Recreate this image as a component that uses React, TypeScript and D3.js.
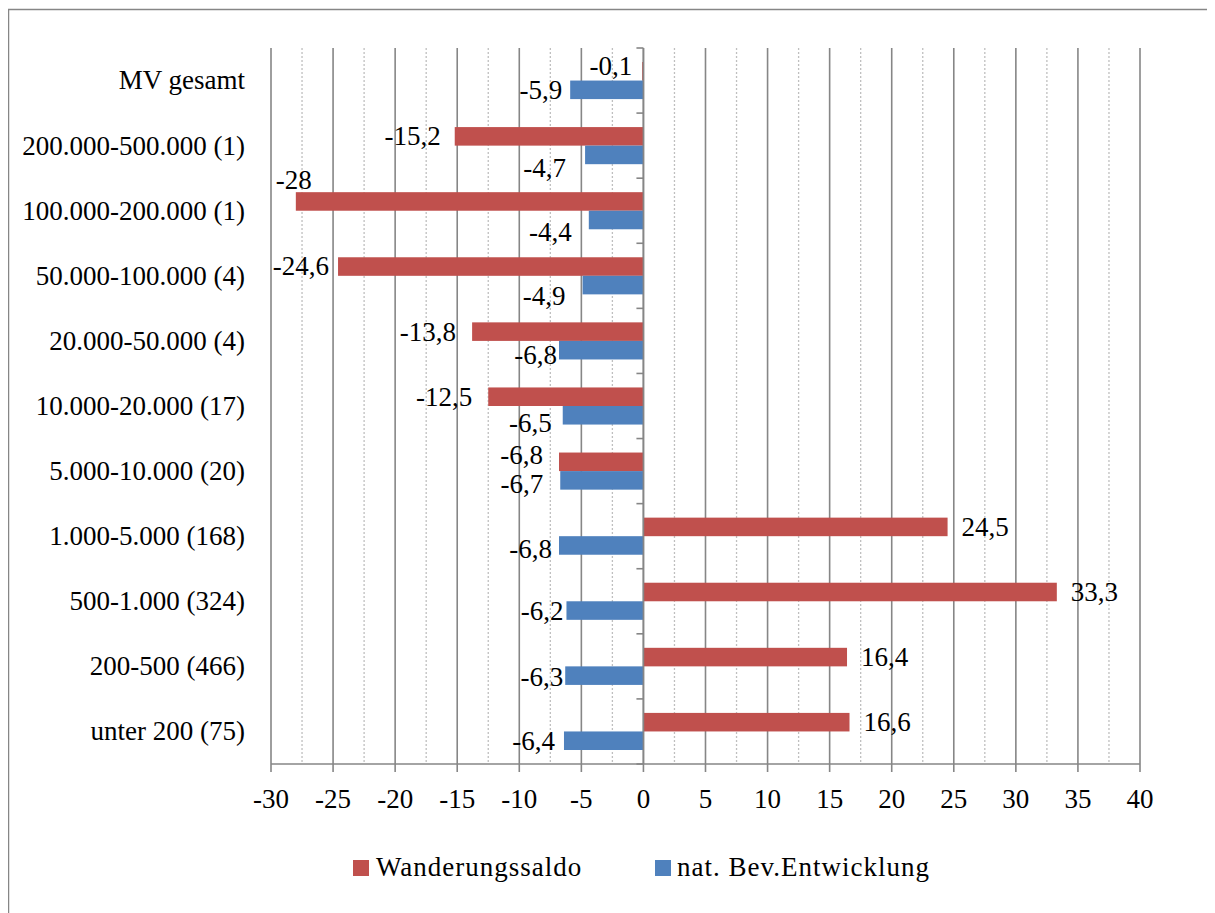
import React, { useEffect } from "react";
import * as d3 from "d3";

// Größenklassen der Gemeinden (Anzahl Gemeinden in Klammern)
const categories = [
  "MV gesamt",
  "200.000-500.000 (1)",
  "100.000-200.000 (1)",
  "50.000-100.000 (4)",
  "20.000-50.000 (4)",
  "10.000-20.000 (17)",
  "5.000-10.000 (20)",
  "1.000-5.000 (168)",
  "500-1.000 (324)",
  "200-500 (466)",
  "unter 200 (75)",
];

const wanderungssaldo = [-0.1, -15.2, -28, -24.6, -13.8, -12.5, -6.8, 24.5, 33.3, 16.4, 16.6];
const natBevEntwicklung = [-5.9, -4.7, -4.4, -4.9, -6.8, -6.5, -6.7, -6.8, -6.2, -6.3, -6.4];

const seriesNames = ["Wanderungssaldo", "nat. Bev.Entwicklung"];
const xTicks = [-30, -25, -20, -15, -10, -5, 0, 5, 10, 15, 20, 25, 30, 35, 40];
const xMinorTicks = [-27.5, -22.5, -17.5, -12.5, -7.5, -2.5, 2.5, 7.5, 12.5, 17.5, 22.5, 27.5, 32.5, 37.5];

// Verschiebungen einzelner Datenbeschriftungen (dx, dy), um Überlappungen zu vermeiden
const redLabelShift: [number, number][] = [
  [4, -5], [0, 0], [30, -21], [5, 0], [-2, 0], [-2, 0], [-2, -7], [0, 0], [0, 0], [0, 0], [0, 0],
];
const blueLabelShift: [number, number][] = [
  [6, 0], [-5, 13], [-3, 12], [-3, 11], [12, 5], [3, 8], [-3, 4], [7, 4], [11, 1], [12, 1], [5, 0],
];

const RED = "#C0504D";
const BLUE = "#4F81BD";
const GRID = "#868686";
const MINOR = "#BFBFBF";
const FONT = "'Liberation Serif', 'Times New Roman', serif";
const FS = 27;

const fmt = (v: number) => String(v).replace(".", ",");

export default function App() {
  useEffect(() => {
    document.body.style.overflow = "hidden";
  }, []);

  const W = 1215;
  const H = 913;
  const plot = { left: 271, right: 1140, top: 48, bottom: 764 };

  const x = d3.scaleLinear().domain([-30, 40]).range([plot.left, plot.right]);
  const y = d3
    .scaleBand<string>()
    .domain(categories)
    .range([plot.top, plot.bottom])
    .paddingInner(0.43)
    .paddingOuter(0.215);
  const sub = d3
    .scaleBand<string>()
    .domain(seriesNames)
    .range([0, y.bandwidth()]);

  const gap = 14;
  const step = y.step();
  const boundaries = d3.range(categories.length + 1).map((i) => plot.top + i * step);

  return (
    <svg width={W - 8} height={H - 8} style={{ display: "block" }}>
      <g transform="translate(-8,-8)" fontFamily={FONT} fontSize={FS} fill="#000">
        <rect x={8.5} y={9.5} width={1400} height={1000} fill="#fff" stroke={GRID} strokeWidth={1.5} />

        {/* Hilfsgitternetz */}
        {xMinorTicks.map((t) => (
          <line
            key={"m" + t}
            x1={x(t)}
            x2={x(t)}
            y1={plot.top}
            y2={plot.bottom}
            stroke={MINOR}
            strokeWidth={1.3}
            strokeDasharray="2,2"
          />
        ))}
        {/* Hauptgitternetz */}
        {xTicks.map((t) => (
          <line
            key={"g" + t}
            x1={x(t)}
            x2={x(t)}
            y1={plot.top}
            y2={plot.bottom + 8}
            stroke={GRID}
            strokeWidth={1.6}
          />
        ))}
        {/* x-Achse */}
        <line x1={plot.left} x2={plot.right} y1={plot.bottom} y2={plot.bottom} stroke={GRID} strokeWidth={1.6} />
        {/* Kategorienachse bei 0 mit Teilstrichen */}
        {boundaries.map((b, i) => (
          <line key={"ct" + i} x1={x(0) - 7} x2={x(0)} y1={b} y2={b} stroke={GRID} strokeWidth={1.6} />
        ))}

        {/* Balken */}
        {categories.map((c, i) => {
          const v1 = wanderungssaldo[i];
          const v2 = natBevEntwicklung[i];
          const y1 = (y(c) as number) + (sub(seriesNames[0]) as number);
          const y2 = (y(c) as number) + (sub(seriesNames[1]) as number);
          return (
            <g key={"b" + c}>
              <rect
                x={Math.min(x(0), x(v1))}
                y={y1}
                width={Math.abs(x(v1) - x(0))}
                height={sub.bandwidth()}
                fill={RED}
              />
              <rect
                x={Math.min(x(0), x(v2))}
                y={y2}
                width={Math.abs(x(v2) - x(0))}
                height={sub.bandwidth()}
                fill={BLUE}
              />
            </g>
          );
        })}
        <line x1={x(0)} x2={x(0)} y1={plot.top} y2={plot.bottom} stroke={GRID} strokeWidth={1.6} />

        {/* Datenbeschriftungen */}
        {categories.map((c, i) => {
          const rows = [
            { v: wanderungssaldo[i], s: seriesNames[0], shift: redLabelShift[i] },
            { v: natBevEntwicklung[i], s: seriesNames[1], shift: blueLabelShift[i] },
          ];
          return rows.map((r) => {
            const cy = (y(c) as number) + (sub(r.s) as number) + sub.bandwidth() / 2;
            const neg = r.v < 0;
            const lx = x(r.v) + (neg ? -gap : gap) + r.shift[0];
            return (
              <text
                key={"l" + c + r.s}
                x={lx}
                y={cy + r.shift[1]}
                dy="0.33em"
                textAnchor={neg ? "end" : "start"}
              >
                {fmt(r.v)}
              </text>
            );
          });
        })}

        {/* Kategorienbeschriftungen */}
        {categories.map((c) => (
          <text
            key={"c" + c}
            x={245}
            y={(y(c) as number) + y.bandwidth() / 2}
            dy="0.33em"
            textAnchor="end"
          >
            {c}
          </text>
        ))}

        {/* Achsenbeschriftungen */}
        {xTicks.map((t) => (
          <text key={"t" + t} x={x(t)} y={808} textAnchor="middle">
            {String(t)}
          </text>
        ))}

        {/* Legende */}
        <rect x={353} y={860} width={16} height={16} fill={RED} />
        <text x={376} y={876} letterSpacing={1}>{seriesNames[0]}</text>
        <rect x={655} y={860} width={16} height={16} fill={BLUE} />
        <text x={677} y={876} letterSpacing={1}>{seriesNames[1]}</text>
      </g>
    </svg>
  );
}
